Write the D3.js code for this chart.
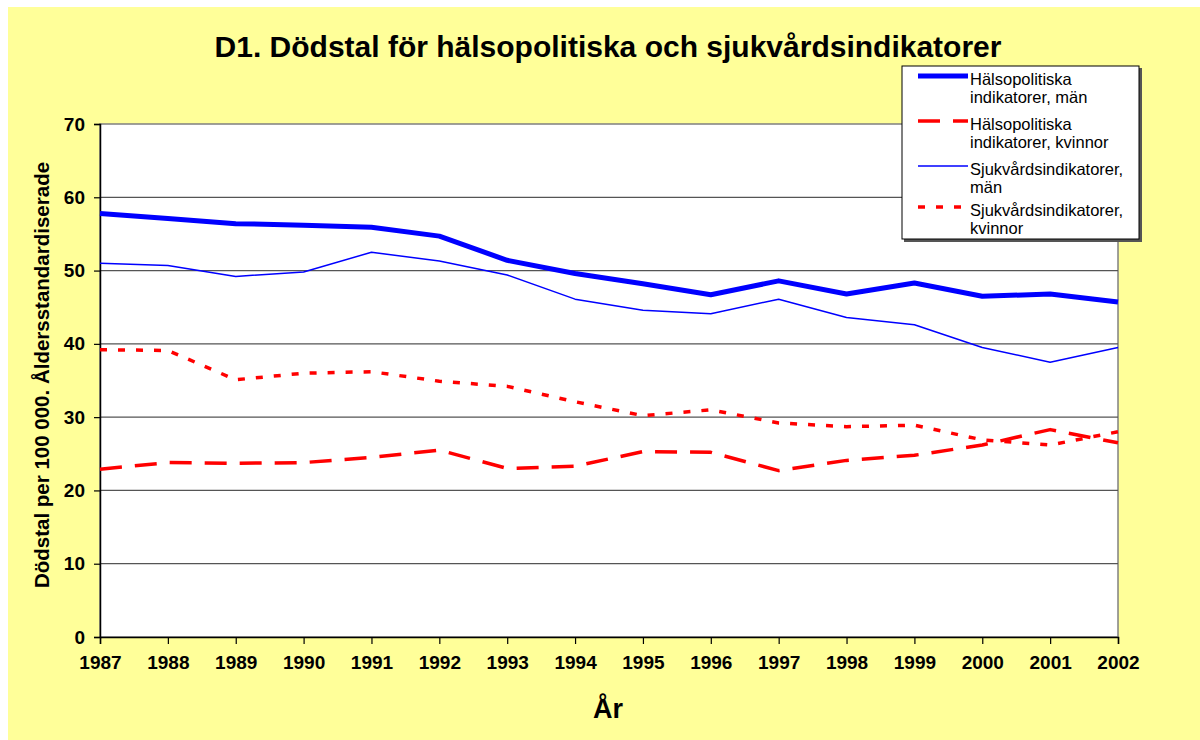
<!DOCTYPE html>
<html>
<head>
<meta charset="utf-8">
<script src="https://cdn.jsdelivr.net/npm/d3@7"></script>
<style>
  body { margin: 0; background: #fff; }
  svg text { font-family: "Liberation Sans", Arial, sans-serif; }
</style>
</head>
<body>
<svg id="chart" width="1200" height="740"></svg>
<script>
// data
var years = [1987,1988,1989,1990,1991,1992,1993,1994,1995,1996,1997,1998,1999,2000,2001,2002];
var halsoMan    = [57.8,57.1,56.4,56.2,55.9,54.7,51.4,49.6,48.2,46.7,48.6,46.8,48.3,46.5,46.8,45.7];
var halsoKvinna = [22.9,23.8,23.7,23.8,24.5,25.5,23.0,23.3,25.3,25.2,22.7,24.1,24.8,26.2,28.3,26.5];
var sjukMan     = [51.0,50.7,49.2,49.8,52.5,51.3,49.4,46.1,44.6,44.1,46.1,43.6,42.6,39.5,37.5,39.5];
var sjukKvinna  = [39.2,39.1,35.1,36.0,36.2,34.9,34.2,32.1,30.2,31.0,29.2,28.7,28.9,26.9,26.2,28.0];
var yTicks = [0,10,20,30,40,50,60,70];

var series = [
  {name: ["Hälsopolitiska", "indikatorer, män"], values: halsoMan, color: "#0000ff", width: 5, dash: null},
  {name: ["Hälsopolitiska", "indikatorer, kvinnor"], values: halsoKvinna, color: "#ff0000", width: 3.5, dash: "22,13"},
  {name: ["Sjukvårdsindikatorer,", "män"], values: sjukMan, color: "#0000ff", width: 1.5, dash: null},
  {name: ["Sjukvårdsindikatorer,", "kvinnor"], values: sjukKvinna, color: "#ff0000", width: 3.5, dash: "7,11"}
];

var svg = d3.select("#chart");

// yellow chart area
svg.append("rect")
  .attr("x", 8).attr("y", 7)
  .attr("width", 1192).attr("height", 733)
  .attr("fill", "#ffff99");

var pLeft = 100, pRight = 1118, pTop = 124, pBottom = 637;

var x = d3.scalePoint().domain(years).range([pLeft, pRight]);
var y = d3.scaleLinear().domain([0, 70]).range([pBottom, pTop]);

// plot area
svg.append("rect")
  .attr("x", pLeft).attr("y", pTop)
  .attr("width", pRight - pLeft).attr("height", pBottom - pTop)
  .attr("fill", "#fff")
  .attr("stroke", "#808080").attr("stroke-width", 1.5);

// gridlines
svg.append("g").selectAll("line")
  .data(yTicks.filter(function(d){ return d > 0 && d < 70; }))
  .enter().append("line")
  .attr("x1", pLeft).attr("x2", pRight)
  .attr("y1", function(d){ return y(d); })
  .attr("y2", function(d){ return y(d); })
  .attr("stroke", "#555").attr("stroke-width", 1.3);

// axes
var yAxis = svg.append("g")
  .attr("transform", "translate(" + pLeft + ",0)")
  .call(d3.axisLeft(y).tickValues(yTicks).tickSize(6).tickPadding(9));
var xAxis = svg.append("g")
  .attr("transform", "translate(0," + pBottom + ")")
  .call(d3.axisBottom(x).tickSize(7).tickPadding(12).tickFormat(d3.format("d")));

[yAxis, xAxis].forEach(function(g){
  g.select(".domain").attr("stroke", "#000").attr("stroke-width", 1.5);
  g.selectAll(".tick line").attr("stroke", "#000").attr("stroke-width", 1.2);
  g.selectAll(".tick text")
    .attr("fill", "#000")
    .style("font-size", "19px")
    .style("font-weight", "bold")
    .style("font-family", "'Liberation Sans', Arial, sans-serif");
});

// lines
var line = d3.line()
  .x(function(d, i){ return x(years[i]); })
  .y(function(d){ return y(d); });

svg.append("g").selectAll("path")
  .data(series)
  .enter().append("path")
  .attr("d", function(s){ return line(s.values); })
  .attr("fill", "none")
  .attr("stroke", function(s){ return s.color; })
  .attr("stroke-width", function(s){ return s.width; })
  .attr("stroke-dasharray", function(s){ return s.dash; })
  .attr("stroke-linejoin", "round");

// title
svg.append("text")
  .attr("x", 608).attr("y", 57)
  .attr("text-anchor", "middle")
  .style("font-size", "30px").style("font-weight", "bold")
  .text("D1. Dödstal för hälsopolitiska och sjukvårdsindikatorer");

// axis titles
svg.append("text")
  .attr("transform", "translate(49,375) rotate(-90)")
  .attr("text-anchor", "middle")
  .style("font-size", "20.5px").style("font-weight", "bold")
  .text("Dödstal per 100 000. Åldersstandardiserade");

svg.append("text")
  .attr("x", 608).attr("y", 718)
  .attr("text-anchor", "middle")
  .style("font-size", "27px").style("font-weight", "bold")
  .text("År");

// legend
var lg = svg.append("g");
lg.append("rect")
  .attr("x", 904).attr("y", 68)
  .attr("width", 238).attr("height", 174)
  .attr("fill", "#555");
lg.append("rect")
  .attr("x", 902).attr("y", 66)
  .attr("width", 237).attr("height", 173)
  .attr("fill", "#fff").attr("stroke", "#000").attr("stroke-width", 1);

var entryY = [76, 121, 166, 207];
var item = lg.selectAll("g.item")
  .data(series)
  .enter().append("g")
  .attr("class", "item")
  .attr("transform", function(d, i){ return "translate(0," + entryY[i] + ")"; });

item.append("line")
  .attr("x1", 918).attr("x2", 968)
  .attr("y1", 0).attr("y2", 0)
  .attr("stroke", function(s){ return s.color; })
  .attr("stroke-width", function(s){ return s.width; })
  .attr("stroke-dasharray", function(s){ return s.dash; });

item.append("text")
  .attr("x", 970).attr("y", 9)
  .style("font-size", "16.5px")
  .selectAll("tspan")
  .data(function(s){ return s.name; })
  .enter().append("tspan")
  .attr("x", 970)
  .attr("dy", function(d, i){ return i === 0 ? 0 : 18; })
  .text(function(d){ return d; });
</script>
</body>
</html>
